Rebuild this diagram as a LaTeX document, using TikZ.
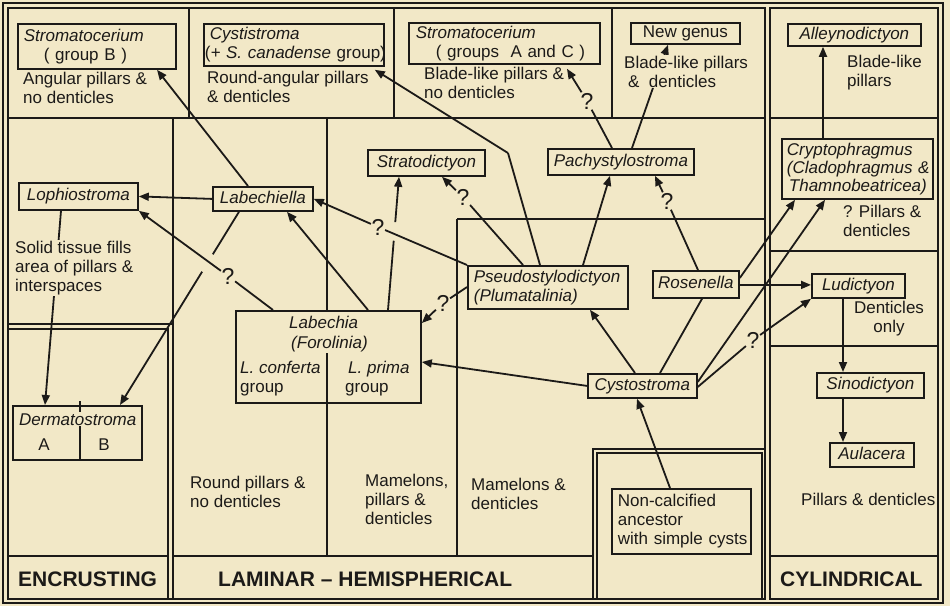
\documentclass[tikz,border=0pt]{standalone}
\usepackage{fontspec}
\setmainfont{Liberation Sans}
\usetikzlibrary{arrows.meta,calc}
\definecolor{bg}{RGB}{242,232,199}
\definecolor{ink}{RGB}{28,26,24}
\pgfdeclarelayer{background}
\pgfdeclarelayer{edges}
\pgfsetlayers{background,edges,main}
\newcommand{\diagfont}{\fontsize{17}{19}\selectfont\hyphenpenalty=10000 \exhyphenpenalty=10000 }
\newcommand{\cryptofont}{\fontsize{17}{18}\selectfont\hyphenpenalty=10000 \exhyphenpenalty=10000 }
\begin{document}
\begin{tikzpicture}[x=1pt,y=-1pt,
  grid/.style={draw=ink, line width=1.4pt},
  box/.style={draw=ink, line width=1.8pt, inner sep=0pt, anchor=north west, font=\diagfont, text=ink},
  sbox/.style={box, text height=12.5pt, text depth=3.5pt},
  txt/.style={font=\diagfont, inner sep=1pt, fill=bg, align=left, anchor=base west, text=ink},
  edge/.style={draw=ink, line width=1.8pt},
  arr/.style={edge, -{Triangle[length=10pt,width=8pt]}},
  qm/.style={font=\fontsize{23}{23}\selectfont, inner sep=0.5pt, text=ink},
  lbl/.style={font=\fontsize{21}{24}\selectfont\bfseries, anchor=base west, inner sep=0pt, text=ink}]
\useasboundingbox (0,0) rectangle (950,606);
\begin{pgfonlayer}{background}
\fill[bg] (0,0) rectangle (950,606);
\draw[grid] (3,3) rectangle (943,603);
\draw[grid] (8,8) rectangle (765,599);
\draw[grid] (770,8) rectangle (938,599);
% top row
\draw[grid] (8,118) -- (765,118);
\draw[grid] (189,8) -- (189,118);
\draw[grid] (394,8) -- (394,118);
\draw[grid] (612,8) -- (612,118);
% encrusting
\draw[grid] (173,118) -- (173,599);
\draw[grid] (8,324) -- (173,324);
\draw[grid] (8,329) -- (168,329) -- (168,599);
\draw[grid] (8,556) -- (168,556);
\draw[grid] (80,401) -- (80,459);
% laminar
\draw[grid] (327,118) -- (327,310);
\draw[grid] (327,352) -- (327,556);
\draw[grid] (457,219) -- (457,556);
\draw[grid] (457,219) -- (765,219);
\draw[grid] (173,556) -- (593,556);
\draw[grid] (593,599) -- (593,449) -- (765,449);
\draw[grid] (597,599) -- (597,453) -- (762,453) -- (762,599);
% cylindrical
\draw[grid] (770,118) -- (938,118);
\draw[grid] (770,251) -- (938,251);
\draw[grid] (770,346) -- (938,346);
\draw[grid] (770,556) -- (938,556);
\end{pgfonlayer}

% boxes
\node[box, align=left, text width=146pt, inner xsep=6pt, minimum height=45pt] (strB) at (17,23) {\textit{Stromatocerium}\\\hspace*{20pt}(~group~B~)};
\node[box, align=left, text width=178pt, inner xsep=1pt, minimum height=42pt] (cysti) at (203,23) {\hspace*{5pt}\textit{Cystistroma}\\(\textit{+~S.~canadense}~group)};
\node[box, align=left, text width=177pt, inner xsep=7pt, minimum height=41pt] (strAC) at (408,22) {\textit{Stromatocerium}\\\hspace*{20pt}(~groups~~A~and~C~)};
\node[sbox, minimum width=109pt, minimum height=21pt] (newg) at (630,22) {New genus};
\node[sbox, minimum width=133pt, minimum height=22pt] (alley) at (787,23) {\textit{Alleynodictyon}};
\node[box, align=left, text width=141pt, inner xsep=5pt, minimum height=60pt, font=\cryptofont] (crypto) at (781,138) {\textit{Cryptophragmus}\\\textit{(Cladophragmus~\&}\\\hspace*{2pt}\textit{Thamnobeatricea)}};
\node[sbox, minimum width=93pt, minimum height=24pt] (ludi) at (811,273) {\textit{Ludictyon}};
\node[sbox, minimum width=107pt, minimum height=25pt] (sino) at (816,372) {\textit{Sinodictyon}};
\node[sbox, minimum width=84pt, minimum height=24pt] (aula) at (829,442) {\textit{Aulacera}};
\node[box, align=left, text width=135pt, inner xsep=2pt, minimum height=65pt] (ances) at (611,488) {\hspace*{4pt}Non-calcified\\\hspace*{4pt}ancestor\\\hspace*{4pt}with~simple~cysts};
\node[sbox, minimum width=109pt, minimum height=24pt] (cysto) at (587,373) {\textit{Cystostroma}};
\node[sbox, minimum width=86pt, minimum height=27pt] (rosen) at (652,270) {\textit{Rosenella}};
\node[box, align=left, text width=148pt, inner xsep=6pt, minimum height=43pt] (pseudo) at (467,265) {\textit{Pseudostylodictyon}\\\textit{(Plumatalinia)}};
\node[sbox, minimum width=146pt, minimum height=26pt] (pachy) at (547,148) {\textit{Pachystylostroma}};
\node[sbox, minimum width=117pt, minimum height=26pt] (strato) at (367,149) {\textit{Stratodictyon}};
\node[sbox, minimum width=100pt, minimum height=24pt] (lbla) at (212,186) {\textit{Labechiella}};
\node[sbox, minimum width=119pt, minimum height=27pt] (lophio) at (18,182) {\textit{Lophiostroma}};
\node[box, minimum width=185pt, minimum height=92pt] (lab) at (235,310) {};
\node[box, minimum width=129pt, minimum height=54pt] (derm) at (12,405) {};

% texts inside Labechia and Dermatostroma (multi-line: base = last line)
\node[txt] (tlab1) at (288,328) {\textit{Labechia}};
\node[txt] (tlab2) at (290,348) {\textit{(Forolinia)}};
\node[txt] (tconf) at (239,392) {\textit{L.~conferta}\\group};
\node[txt] (tprima) at (347,392) {\textit{L.~prima}\\\hspace*{-3pt}group};
\node[txt] (tderm) at (18,425) {\textit{Dermatostroma}};
\node[txt, anchor=base] (tA) at (44,450) {A};
\node[txt, anchor=base] (tB) at (104,450) {B};

% descriptive texts
\node[txt] (tangular) at (22,103) {Angular pillars \&\\no denticles};
\node[txt] (troundang) at (206,102) {Round-angular pillars\\\& denticles};
\node[txt] (tbladeac) at (423,98) {Blade-like pillars \&\\no denticles};
\node[txt] (tbladeng) at (623,87) {Blade-like pillars\\\hspace*{4pt}\&~~denticles};
\node[txt] (tbladeal) at (846,86) {Blade-like\\pillars};
\node[txt] (tsolid) at (14,291) {Solid tissue fills\\area of pillars \&\\interspaces};
\node[txt] (tqpill) at (842,236) {? Pillars \&\\denticles};
\node[txt, align=center, anchor=base] (tdent) at (889,332) {Denticles\\only};
\node[txt] (tpillden) at (800,505) {Pillars \& denticles};
\node[txt] (tmamden) at (470,509) {Mamelons \&\\denticles};
\node[txt] (tmampill) at (364,524) {Mamelons,\\pillars \&\\denticles};
\node[txt] (troundp) at (189,507) {Round pillars \&\\no denticles};
\node[lbl] (tencr) at (18,586) {ENCRUSTING};
\node[lbl] (tlam) at (218,586) {LAMINAR -- HEMISPHERICAL};
\node[lbl] (tcyl) at (780,586) {CYLINDRICAL};

% question marks and helper coordinates
\node[qm] (q1) at (228,276) {?};
\node[qm] (q2) at (378,227) {?};
\node[qm] (q3) at (463,197) {?};
\node[qm] (q4) at (443,303) {?};
\node[qm] (q5) at (587,101) {?};
\node[qm] (q6) at (667,201) {?};
\node[qm] (q7) at (753,340) {?};
\coordinate (bend1) at (508,153);
\coordinate (e3a) at ([xshift=27pt]lbla.south west);
\coordinate (e3b) at ([xshift=108pt]derm.north west);
\coordinate (e7a) at ([xshift=153pt]lab.north west);
\coordinate (e7b) at ([xshift=32pt]strato.south west);
\coordinate (c20) at ([yshift=-0.5pt]rosen.east);
\coordinate (c22) at ([xshift=42pt]crypto.north west);
\coordinate (c23) at ([xshift=32pt]ludi.south west);
\coordinate (c24) at ([xshift=27pt]sino.south west);

\begin{pgfonlayer}{edges}
\draw[arr] ([xshift=36pt]lbla.north west) -- ([xshift=140pt]strB.south west);
\draw[arr] (lbla.west) -- (lophio.east);
\draw[edge] (e3a) -- ($(e3a)!0.22!(e3b)$);
\draw[arr] ($(e3a)!0.31!(e3b)$) -- (e3b);
\draw[edge] ([xshift=38pt]lab.north west) -- (q1);
\draw[arr] (q1) -- (lophio.south east);
\draw[arr] ([xshift=43pt]lophio.south west) -- ([xshift=33pt]derm.north west);
\draw[arr] ([xshift=133pt]lab.north west) -- ([xshift=75pt]lbla.south west);
\draw[edge] (e7a) -- ($(e7a)!0.52!(e7b)$);
\draw[arr] ($(e7a)!0.66!(e7b)$) -- (e7b);
\draw[edge] (pseudo.north west) -- (q2);
\draw[arr] (q2) -- (lbla.east);
\draw[edge] ([xshift=56pt]pseudo.north west) -- (q3);
\draw[arr] (q3) -- ([xshift=75pt]strato.south west);
\draw[edge] ([yshift=-22pt]pseudo.north west) -- (q4);
\draw[arr] (q4) -- ([yshift=-13pt]lab.north east);
\draw[edge] ([xshift=73pt]pseudo.north west) -- (bend1);
\draw[arr] (bend1) -- ([xshift=-10pt,yshift=-3pt]cysti.south east);
\draw[arr] ([xshift=116pt]pseudo.north west) -- ([xshift=63pt]pachy.south west);
\draw[edge] ([xshift=65pt]pachy.north west) -- (q5);
\draw[arr] (q5) -- ([xshift=159pt,yshift=-4pt]strAC.south west);
\draw[arr] ([xshift=85pt]pachy.north west) -- ([xshift=38pt]newg.south west);
\draw[edge] ([xshift=46pt]rosen.north west) -- (q6);
\draw[arr] (q6) -- ([xshift=108pt]pachy.south west);
\draw[edge] ([xshift=73pt]cysto.north west) -- ([xshift=50pt]rosen.south west);
\draw[arr] ([xshift=48pt]cysto.north west) -- ([xshift=123pt]pseudo.south west);
\draw[arr] (cysto.west) -- ([yshift=-52pt]lab.north east);
\draw[arr] ([yshift=4pt]cysto.east) -- ([xshift=44pt]crypto.south west);
\draw[arr] ([yshift=-8pt]rosen.north east) -- ([xshift=14pt]crypto.south west);
\draw[arr] (c20) -- (c20 -| ludi.west);
\draw[edge] ([yshift=-1pt]cysto.east) -- (q7);
\draw[arr] (q7) -- (ludi.south west);
\draw[arr] (c22) -- (c22 |- alley.south);
\draw[arr] (c23) -- (c23 |- sino.north);
\draw[arr] (c24) -- (c24 |- aula.north);
\draw[arr] ([xshift=59pt]ances.north west) -- ([xshift=50pt]cysto.south west);
\end{pgfonlayer}
\end{tikzpicture}
\end{document}
